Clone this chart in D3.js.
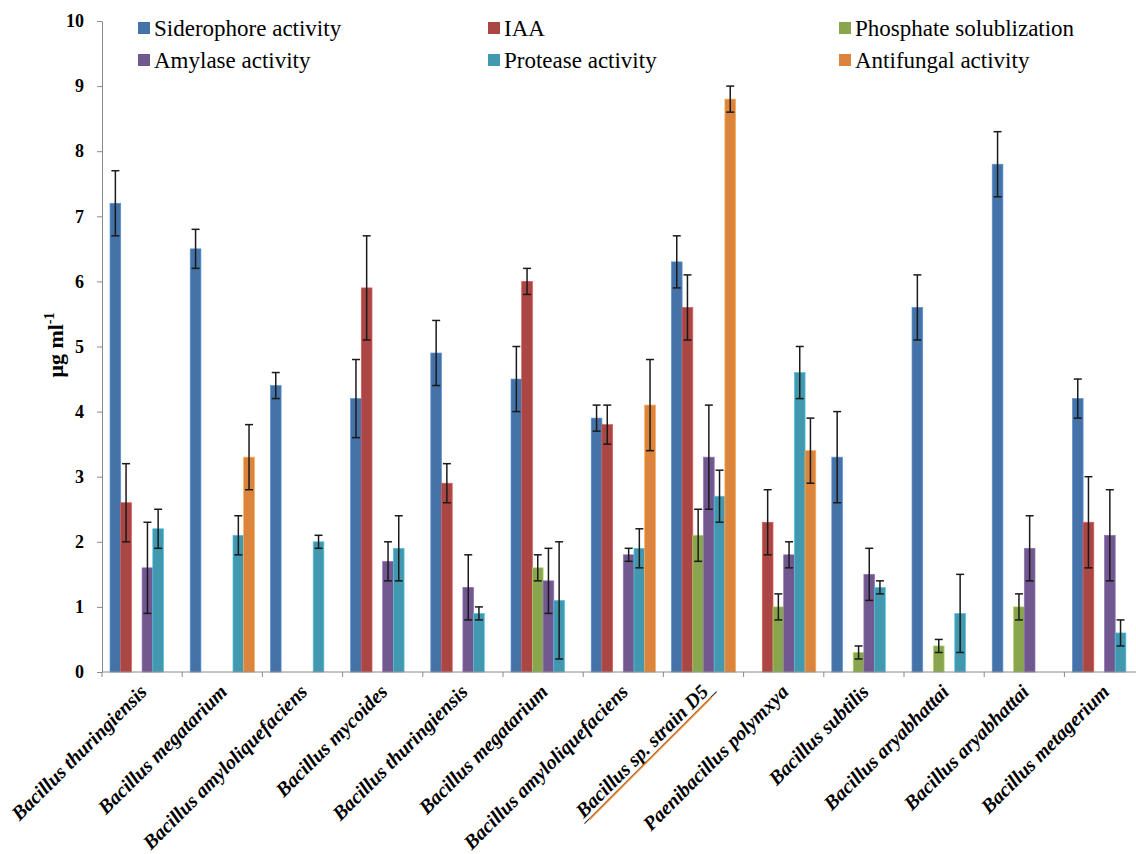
<!DOCTYPE html>
<html>
<head>
<meta charset="utf-8">
<script src="https://cdn.jsdelivr.net/npm/d3@7"></script>
<style>
  body { margin: 0; background: #fff; }
</style>
</head>
<body>
<div id="chart"></div>
<script>
// Strain names along the x axis
var strains = ["Bacillus thuringiensis", "Bacillus megatarium", "Bacillus amyloliquefaciens",
    "Bacillus mycoides", "Bacillus thuringiensis", "Bacillus megatarium",
    "Bacillus amyloliquefaciens", "Bacillus sp. strain D5", "Paenibacillus polymxya",
    "Bacillus subtilis", "Bacillus aryabhattai", "Bacillus aryabhattai", "Bacillus metagerium"];

var seriesNames = ["Siderophore activity", "IAA", "Phosphate solublization",
    "Amylase activity", "Protease activity", "Antifungal activity"];

// Values (null = not detected) and error bars
var siderophore    = [7.2, 6.5, 4.4, 4.2, 4.9, 4.5, 3.9, 6.3, null, 3.3, 5.6, 7.8, 4.2];
var siderophoreErr = [0.5, 0.3, 0.2, 0.6, 0.5, 0.5, 0.2, 0.4, null, 0.7, 0.5, 0.5, 0.3];
var iaa            = [2.6, null, null, 5.9, 2.9, 6.0, 3.8, 5.6, 2.3, null, null, null, 2.3];
var iaaErr         = [0.6, null, null, 0.8, 0.3, 0.2, 0.3, 0.5, 0.5, null, null, null, 0.7];
var phosphate      = [null, null, null, null, null, 1.6, null, 2.1, 1.0, 0.3, 0.4, 1.0, null];
var phosphateErr   = [null, null, null, null, null, 0.2, null, 0.4, 0.2, 0.1, 0.1, 0.2, null];
var amylase        = [1.6, null, null, 1.7, 1.3, 1.4, 1.8, 3.3, 1.8, 1.5, null, 1.9, 2.1];
var amylaseErr     = [0.7, null, null, 0.3, 0.5, 0.5, 0.1, 0.8, 0.2, 0.4, null, 0.5, 0.7];
var protease       = [2.2, 2.1, 2.0, 1.9, 0.9, 1.1, 1.9, 2.7, 4.6, 1.3, 0.9, null, 0.6];
var proteaseErr    = [0.3, 0.3, 0.1, 0.5, 0.1, 0.9, 0.3, 0.4, 0.4, 0.1, 0.6, null, 0.2];
var antifungal     = [null, 3.3, null, null, null, null, 4.1, 8.8, 3.4, null, null, null, null];
var antifungalErr  = [null, 0.5, null, null, null, null, 0.7, 0.2, 0.5, null, null, null, null];

var yTicks = [0, 1, 2, 3, 4, 5, 6, 7, 8, 9, 10];

var colors = ["#4572A7", "#AA4643", "#89A54E", "#71588F", "#4198AF", "#DB843D"];

var values = [siderophore, iaa, phosphate, amylase, protease, antifungal];
var errors = [siderophoreErr, iaaErr, phosphateErr, amylaseErr, proteaseErr, antifungalErr];

// Build flat table of bars
var bars = [];
strains.forEach(function(s, i) {
    values.forEach(function(arr, k) {
        if (arr[i] != null) bars.push({ group: i, series: k, value: arr[i], err: errors[k][i] });
    });
});

var W = 1136, H = 854;
var plotLeft = 102, plotBottom = 672, plotTop = 21;
var step = 80.2;

var svg = d3.select("#chart")
    .append("svg")
    .attr("width", W)
    .attr("height", H)
    .style("font-family", "'Liberation Serif', 'Times New Roman', serif");

// Scales
var x0 = d3.scaleBand()
    .domain(d3.range(strains.length))
    .range([plotLeft, plotLeft + step * strains.length])
    .paddingInner(0.2)
    .paddingOuter(0.1);

var x1 = d3.scaleBand()
    .domain(d3.range(seriesNames.length))
    .range([0, x0.bandwidth()]);

var y = d3.scaleLinear()
    .domain([0, 10])
    .range([plotBottom, plotTop]);

// Bars
svg.append("g").selectAll("rect")
    .data(bars)
    .enter().append("rect")
    .attr("x", d => x0(d.group) + x1(d.series))
    .attr("y", d => y(d.value))
    .attr("width", x1.bandwidth())
    .attr("height", d => plotBottom - y(d.value))
    .attr("fill", d => colors[d.series])
    .attr("stroke", d => d3.color(colors[d.series]).brighter(0.7))
    .attr("stroke-width", 0.7);

// Error bars
var eb = svg.append("g")
    .attr("stroke", "#1a1a1a")
    .attr("stroke-width", 1.5)
    .selectAll("g")
    .data(bars.filter(d => d.err != null))
    .enter().append("g")
    .attr("transform", d => "translate(" + (x0(d.group) + x1(d.series) + x1.bandwidth() / 2) + ",0)");

eb.append("line")
    .attr("y1", d => y(d.value - d.err))
    .attr("y2", d => y(d.value + d.err));
eb.append("line")
    .attr("x1", -4).attr("x2", 4)
    .attr("y1", d => y(d.value + d.err))
    .attr("y2", d => y(d.value + d.err));
eb.append("line")
    .attr("x1", -4).attr("x2", 4)
    .attr("y1", d => y(d.value - d.err))
    .attr("y2", d => y(d.value - d.err));

// Y axis
var yAxis = svg.append("g")
    .attr("transform", "translate(" + plotLeft + ",0)")
    .call(d3.axisLeft(y).tickValues(yTicks).tickSize(5).tickSizeOuter(0).tickPadding(13));
yAxis.select(".domain").attr("stroke", "#8a8a8a");
yAxis.selectAll(".tick line").attr("stroke", "#8a8a8a");
yAxis.selectAll(".tick text")
    .style("font-family", "'Liberation Serif', 'Times New Roman', serif")
    .style("font-size", "18px")
    .style("font-weight", "bold")
    .attr("fill", "#000");

// X axis: line plus ticks at group boundaries
var xEnd = plotLeft + step * strains.length;
svg.append("line")
    .attr("x1", plotLeft).attr("x2", xEnd)
    .attr("y1", plotBottom).attr("y2", plotBottom)
    .attr("stroke", "#8a8a8a");

var edge = (x0.step() - x0.bandwidth()) / 2;
svg.append("g").selectAll("line")
    .data(d3.range(strains.length + 1))
    .enter().append("line")
    .attr("x1", d => d < strains.length ? x0(d) - edge : x0(d - 1) + x0.bandwidth() + edge)
    .attr("x2", d => d < strains.length ? x0(d) - edge : x0(d - 1) + x0.bandwidth() + edge)
    .attr("y1", plotBottom).attr("y2", plotBottom + 5)
    .attr("stroke", "#8a8a8a");

// X labels, rotated
var labels = svg.append("g").selectAll("g")
    .data(strains)
    .enter().append("g")
    .attr("transform", (d, i) => "translate(" + (x0(i) + x0.bandwidth() / 2 + 6) + ",693) rotate(-45)");

labels.append("text")
    .attr("text-anchor", "end")
    .style("font-size", "20px")
    .style("font-weight", "bold")
    .style("font-style", "italic")
    .text(d => d);

// Underline for the highlighted strain
labels.filter(d => d === "Bacillus sp. strain D5").each(function() {
    var g = d3.select(this);
    var len = g.select("text").node().getComputedTextLength();
    g.append("line")
        .attr("x1", -len - 3).attr("x2", 6)
        .attr("y1", 4).attr("y2", 4)
        .attr("stroke", "#222").attr("stroke-width", 1);
    g.append("line")
        .attr("x1", -len + 4).attr("x2", -2)
        .attr("y1", 4.5).attr("y2", 4.5)
        .attr("stroke", "#E8852E").attr("stroke-width", 1.6);
});

// Y axis title
var yTitle = svg.append("text")
    .attr("transform", "translate(63,345) rotate(-90)")
    .attr("text-anchor", "middle")
    .style("font-size", "22px")
    .style("font-weight", "bold");
yTitle.append("tspan").text("μg ml");
yTitle.append("tspan").attr("dy", -9).style("font-size", "14px").text("-1");

// Legend
var legendX = [138, 488, 839];
var legendY = [28, 60];
var legend = svg.append("g").selectAll("g")
    .data(seriesNames)
    .enter().append("g")
    .attr("transform", (d, i) => "translate(" + legendX[i % 3] + "," + legendY[Math.floor(i / 3)] + ")");

legend.append("rect")
    .attr("x", 0).attr("y", -6)
    .attr("width", 12).attr("height", 12)
    .attr("fill", (d, i) => colors[i]);

legend.append("text")
    .attr("x", 16)
    .attr("dy", "0.35em")
    .style("font-size", "23px")
    .text(d => d);
</script>
</body>
</html>
